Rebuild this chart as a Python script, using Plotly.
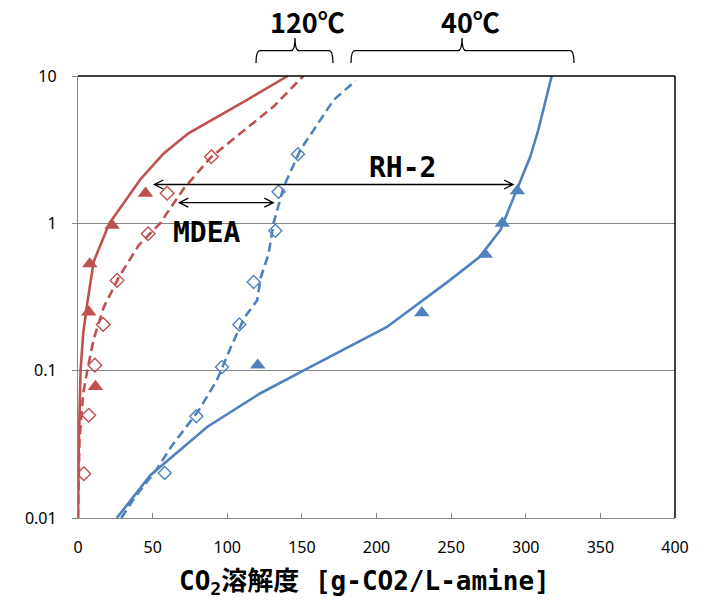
import plotly.graph_objects as go

# ---------------- data ----------------
# 120℃ RH-2 model (solid red)
rh2_120_model_x = [0, 0.5, 1.7, 3.5, 6.5, 10.5, 21, 42, 57.4, 74, 113, 140.5]
rh2_120_model_y = [0.01, 0.03, 0.1, 0.18, 0.3, 0.55, 1.0, 2.0, 2.98, 4.08, 6.87, 10]
# 120℃ RH-2 measured (red triangles)
rh2_120_meas_x = [45.2, 22.9, 7.9, 7.2, 11.7]
rh2_120_meas_y = [1.6, 0.97, 0.53, 0.25, 0.078]

# 120℃ MDEA model (dashed red)
mdea_120_model_x = [0, 1.0, 3.5, 6.2, 10.6, 17.3, 27.3, 40.7, 55, 71, 89.4, 131, 151]
mdea_120_model_y = [0.01, 0.034, 0.07, 0.1, 0.165, 0.27, 0.43, 0.71, 1.0, 1.73, 2.83, 6.2, 10]
# 120℃ MDEA measured (red open diamonds)
mdea_120_meas_x = [89.4, 59.7, 47.0, 26.2, 16.9, 11.3, 7.2, 3.9]
mdea_120_meas_y = [2.83, 1.6, 0.85, 0.41, 0.206, 0.109, 0.0498, 0.02]

# 40℃ MDEA model (dashed blue)
mdea_40_model_x = [29, 38.5, 53, 62, 81, 93, 103, 111.6, 120, 122.5, 127.7, 131, 137.8, 148.9, 162.3, 171.2, 186]
mdea_40_model_y = [0.01, 0.014, 0.0216, 0.03, 0.054, 0.086, 0.149, 0.23, 0.3, 0.43, 0.62, 1.0, 1.77, 3.14, 5.02, 6.87, 9.3]
# 40℃ MDEA measured (blue open diamonds)
mdea_40_meas_x = [147.4, 134.4, 132.2, 117.7, 108.1, 96.5, 79.3, 58.1]
mdea_40_meas_y = [2.94, 1.64, 0.89, 0.40, 0.206, 0.106, 0.049, 0.0202]

# 40℃ RH-2 model (solid blue)
rh2_40_model_x = [26, 48.5, 86.5, 122, 151, 207, 249, 269, 283, 295, 303, 308.4, 313.6, 317.4]
rh2_40_model_y = [0.01, 0.0195, 0.0415, 0.07, 0.1, 0.198, 0.41, 0.59, 0.9, 1.77, 2.83, 4.3, 6.87, 10]
# 40℃ RH-2 measured (blue triangles)
rh2_40_meas_x = [120.4, 230.4, 272.8, 284.3, 294.4]
rh2_40_meas_y = [0.109, 0.247, 0.615, 1.0, 1.66]

x_ticks = [0, 50, 100, 150, 200, 250, 300, 350, 400]
y_ticks = [0.01, 0.1, 1, 10]
y_ticktext = ["0.01", "0.1", "1", "10"]

RED = "#C0504D"
BLUE = "#4F81BD"

# ---------------- figure ----------------
fig = go.Figure()

def line(x, y, color, dash):
    fig.add_trace(go.Scatter(x=x, y=y, mode="lines",
                             line=dict(color=color, width=2.6, dash=dash),
                             showlegend=False, hoverinfo="skip"))

def marks(x, y, color, symbol, size, lw=1.4):
    fig.add_trace(go.Scatter(x=x, y=y, mode="markers",
                             marker=dict(symbol=symbol, size=size, color=color,
                                         line=dict(color=color, width=lw)),
                             showlegend=False))

line(rh2_120_model_x, rh2_120_model_y, RED, "solid")
line(mdea_120_model_x, mdea_120_model_y, RED, "9px,5px")
line(mdea_40_model_x, mdea_40_model_y, BLUE, "9px,5px")
line(rh2_40_model_x, rh2_40_model_y, BLUE, "solid")

marks(rh2_120_meas_x, rh2_120_meas_y, RED, "triangle-up", 13.5, 0)
marks(mdea_120_meas_x, mdea_120_meas_y, RED, "diamond-open", 10.5)
marks(mdea_40_meas_x, mdea_40_meas_y, BLUE, "diamond-open", 10)
marks(rh2_40_meas_x, rh2_40_meas_y, BLUE, "triangle-up", 13.5, 0)

# positions below are in screenshot pixels (page body margin removed)
W, H = 709, 603
PL, PR, PT, PB = 78, 675, 76, 518
def px(v):
    return (v - PL) / (PR - PL)
def py(v):
    return (PB - v) / (PB - PT)

shapes = []
shapes.append(dict(type="line", xref="paper", yref="paper", x0=0, x1=1, y0=1, y1=1,
                   line=dict(color="#000000", width=1.5)))
shapes.append(dict(type="line", xref="paper", yref="paper", x0=1, x1=1, y0=0, y1=1,
                   line=dict(color="#000000", width=1.5)))

def arrow(x1, x2, y, hl=9, hh=4.5):
    p = (f"M{px(x1)},{py(y)} L{px(x2)},{py(y)} "
         f"M{px(x1+hl)},{py(y-hh)} L{px(x1)},{py(y)} L{px(x1+hl)},{py(y+hh)} "
         f"M{px(x2-hl)},{py(y-hh)} L{px(x2)},{py(y)} L{px(x2-hl)},{py(y+hh)}")
    shapes.append(dict(type="path", xref="paper", yref="paper", path=p,
                       line=dict(color="#000000", width=1.3)))

arrow(154.3, 513, 184.5)
arrow(179.3, 273.3, 202.7)

def brace(x0, x1, xc, yb=63, yh=50.7, yt=38, r=4):
    p = (f"M{px(x0)},{py(yb)} Q{px(x0)},{py(yh)} {px(x0+r)},{py(yh)} "
         f"L{px(xc-r)},{py(yh)} Q{px(xc)},{py(yh)} {px(xc)},{py(yt)} "
         f"Q{px(xc)},{py(yh)} {px(xc+r)},{py(yh)} "
         f"L{px(x1-r)},{py(yh)} Q{px(x1)},{py(yh)} {px(x1)},{py(yb)}")
    shapes.append(dict(type="path", xref="paper", yref="paper", path=p,
                       line=dict(color="#000000", width=1.3)))

brace(256, 333, 295)
brace(351, 574, 462)

MONO = "DejaVu Sans Mono, Noto Sans CJK JP"
CJK = "Noto Sans CJK JP"
def label(text, x, y, size, family=MONO):
    return dict(text=text, x=px(x), y=py(y), xref="paper", yref="paper",
                xanchor="center", yanchor="middle", showarrow=False,
                font=dict(family=family, size=size, color="#000"))

annotations = [
    label("<b>120℃</b>", 307, 21, 27, CJK),
    label("<b>40℃</b>", 470, 21, 27, CJK),
    label("<b>RH-2</b>", 403, 167, 28),
    label("<b>MDEA</b>", 207, 233, 28),
    label("<b>CO<sub>2</sub>溶解度 [g-CO2/L-amine]</b>", 364.5, 582, 26),
]

fig.update_layout(
    width=W, height=H,
    margin=dict(l=PL, r=W - PR, t=PT, b=H - PB),
    paper_bgcolor="white", plot_bgcolor="white",
    shapes=shapes, annotations=annotations,
    xaxis=dict(range=[0, 400], tickvals=x_ticks, showgrid=False, zeroline=False,
               showline=True, linecolor="#868686", linewidth=1.3,
               ticks="inside", ticklen=5, tickcolor="#868686",
               ticklabelstandoff=15,
               tickfont=dict(family="Noto Sans", size=16, color="#000")),
    yaxis=dict(type="log", range=[-2, 1], tickvals=y_ticks, ticktext=y_ticktext,
               showgrid=True, gridcolor="#868686", gridwidth=1.2, zeroline=False,
               showline=True, linecolor="#868686", linewidth=1.3,
               ticks="outside", ticklen=5, tickcolor="#868686",
               ticklabelstandoff=12,
               tickfont=dict(family="Noto Sans", size=16, color="#000")),
)

fig.write_html("out.html", config={"displayModeBar": False},
               post_script="document.body.style.margin='0px';document.body.style.overflow='hidden';")
